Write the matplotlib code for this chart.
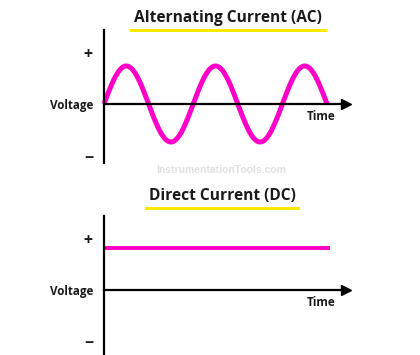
import numpy as np
import matplotlib
matplotlib.use("Agg")
import matplotlib.pyplot as plt
from matplotlib.lines import Line2D

# ---- data ----
ac_title = "Alternating Current (AC)"
dc_title = "Direct Current (DC)"
y_tick_labels = ["+", "Voltage", "\u2212"]
x_label = "Time"
watermark = "InstrumentationTools.com"
ac_cycles = 2.5          # number of full cycles shown
ac_amplitude = 1.0
dc_level = 1.0
dc_duration = 2.53       # time span of the DC line (in AC-period units)

MAGENTA = "#ff00c8"
YELLOW = "#ffe800"
FONT = "Open Sans"

W, H = 420, 355
fig = plt.figure(figsize=(W / 100, H / 100), dpi=100)
fig.patch.set_facecolor("white")

def px_axes(left, top, right, bottom):
    return fig.add_axes([left / W, 1 - bottom / H, (right - left) / W, (bottom - top) / H])

def style_axes(ax, ylim, tick_pos):
    ax.set_xlim(0, 2.713)
    ax.set_ylim(*ylim)
    for s in ["top", "right"]:
        ax.spines[s].set_visible(False)
    ax.spines["bottom"].set_position(("data", 0))
    ax.spines["left"].set_linewidth(1.6)
    ax.spines["bottom"].set_linewidth(1.6)
    ax.set_xticks([])
    ax.set_yticks(tick_pos)
    ax.set_yticklabels(y_tick_labels)
    ax.tick_params(axis="y", length=0, pad=8)
    for lbl, fs in zip(ax.get_yticklabels(), [11.5, 8.4, 11.5]):
        lbl.set_fontfamily(FONT)
        lbl.set_fontweight("bold")
        lbl.set_fontsize(fs)
        lbl.set_color("#1a1a1a")
    ax.plot(1, 0, ">", color="black", markersize=7,
            transform=ax.get_yaxis_transform(), clip_on=False)
    ax.patch.set_alpha(0)

# ---- AC panel ----
ax1 = px_axes(104, 30, 346, 163)
t = np.linspace(0, ac_cycles, 600)
v = ac_amplitude * np.sin(2 * np.pi * t)
ax1.plot(t, v, color=MAGENTA, lw=3.6, solid_capstyle="butt", clip_on=False)
style_axes(ax1, (-1.553, 1.947), [1.34, 0, -1.39])
ax1.text(2.43, -0.34, x_label, ha="center", va="center", fontsize=8.4,
         fontfamily=FONT, fontweight="bold", color="#1a1a1a")

# ---- DC panel ----
ax2 = px_axes(104, 216, 346, 355)
ax2.plot([0, dc_duration], [dc_level, dc_level], color=MAGENTA, lw=2.8,
         solid_capstyle="butt")
style_axes(ax2, (-1.55, 1.76), [1.21, 0, -1.24])
ax2.text(2.43, -0.31, x_label, ha="center", va="center", fontsize=8.4,
         fontfamily=FONT, fontweight="bold", color="#1a1a1a")

# ---- titles with yellow underline ----
def title(txt, cx, cy, uy, ext):
    tt = fig.text(cx / W, 1 - cy / H, txt, ha="center", va="center",
                  fontsize=11.2, fontfamily=FONT, fontweight="bold", color="#1a1a1a")
    fig.canvas.draw()
    bb = tt.get_window_extent()
    x0 = (bb.x0 - ext) / W
    x1 = (bb.x1 + ext) / W
    fig.add_artist(Line2D([x0, x1], [1 - uy / H] * 2, transform=fig.transFigure,
                          color=YELLOW, lw=2.2))

title(ac_title, 228, 18, 29.5, 3)
title(dc_title, 222, 196, 207.5, 3)

fig.text(221 / W, 1 - 170 / H, watermark, ha="center", va="center",
         fontsize=7.5, fontfamily="Liberation Sans", fontweight="bold",
         color="#e0e0e0")

fig.savefig("out.png", dpi=100, facecolor="white")
